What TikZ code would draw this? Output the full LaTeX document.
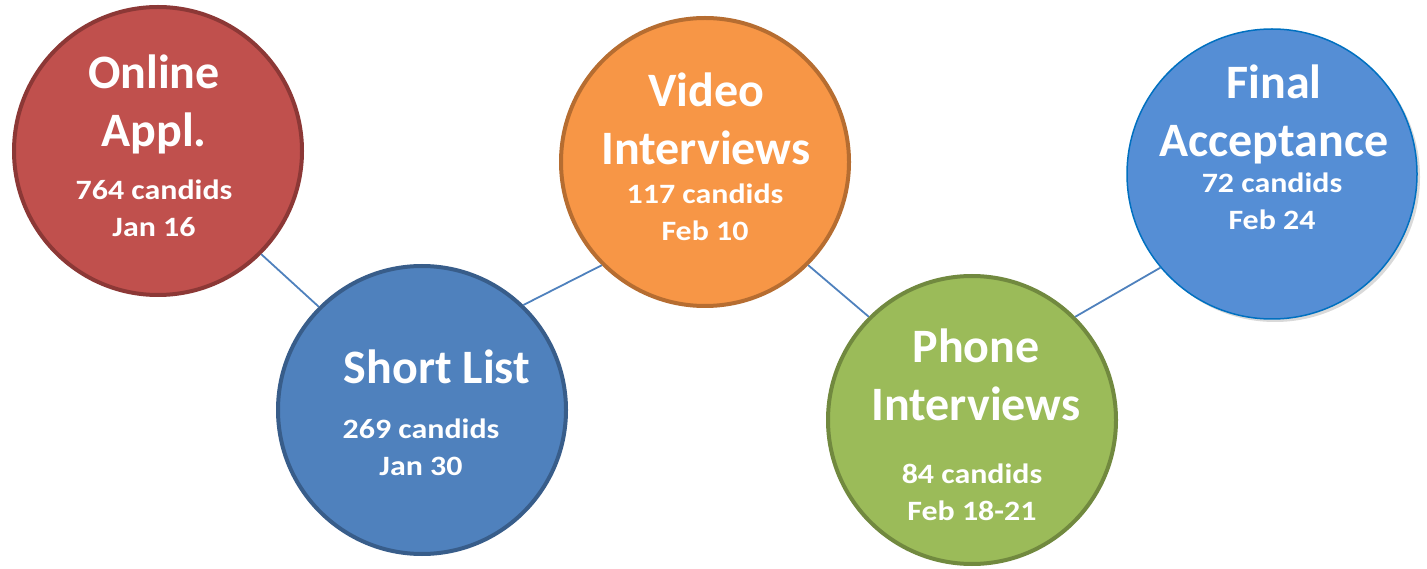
\documentclass[tikz,border=0pt]{standalone}
\usepackage{fontspec}
\newfontfamily\stagefont{Carlito}
\newfontfamily\countfont[FakeStretch=1.14]{Carlito}
\usetikzlibrary{shadows}
\definecolor{applred}{RGB}{192,80,77}
\definecolor{appldark}{RGB}{140,56,54}
\definecolor{listblue}{RGB}{79,129,189}
\definecolor{listdark}{RGB}{56,93,138}
\definecolor{videoorange}{RGB}{247,150,70}
\definecolor{videodark}{RGB}{182,109,49}
\definecolor{phonegreen}{RGB}{155,187,89}
\definecolor{phonedark}{RGB}{113,137,63}
\definecolor{finalblue}{RGB}{85,142,213}
\definecolor{finaldark}{RGB}{0,112,192}

\tikzset{
  stage/.style={draw, circle, line width=4pt, minimum size=288pt, inner sep=0pt},
  stagetitle/.style={text=white, align=center, inner sep=0pt, anchor=base,
    font=\stagefont\bfseries\fontsize{48}{58}\selectfont},
  stagecount/.style={text=white, align=center, inner sep=0pt, anchor=base,
    font=\countfont\bfseries\fontsize{28}{37}\selectfont},
  link/.style={draw=listblue, line width=1.8pt}
}

\begin{document}
\begin{tikzpicture}[x=1pt, y=-1pt]
    \useasboundingbox (0,0) rectangle (1427,569);

    % the five stages
    \node[stage, fill=applred, draw=appldark] (online) at (158,151) {};
    \node[stage, fill=listblue, draw=listdark] (short) at (422,410) {};
    \node[stage, fill=videoorange, draw=videodark] (video) at (705,162) {};
    \node[stage, fill=phonegreen, draw=phonedark] (phone) at (972,420) {};
    \node[stage, fill=finalblue, draw=finaldark, line width=1.5pt, minimum size=290pt,
          drop shadow={shadow xshift=3pt, shadow yshift=-3pt, opacity=0.3}] (final) at (1272,174) {};

    % links between stages
    \draw[link] (online.-45) -- (short.135);
    \draw[link] (short.46) -- (video.225);
    \draw[link] (video.-45) -- (phone.135);
    \draw[link] (phone.45) -- (final.220);

    % labels (anchored on the baseline of the last line)
    \node[stagetitle] (online-t) at (154,147) {Online\\Appl.};
    \node[stagecount] (online-c) at (154,237) {764 candids\\Jan 16};
    \node[stagetitle] (short-t) at (437,383) {Short List};
    \node[stagecount] (short-c) at (421,475) {269 candids\\Jan 30};
    \node[stagetitle] (video-t) at (706,165) {Video\\Interviews};
    \node[stagecount] (video-c) at (705,241) {117 candids\\Feb 10};
    \node[stagetitle] (phone-t) at (976,420) {Phone\\Interviews};
    \node[stagecount] (phone-c) at (972,520) {84 candids\\Feb 18-21};
    \node[stagetitle] (final-t) at (1274,157) {Final\\Acceptance};
    \node[stagecount] (final-c) at (1272,230) {72 candids\\Feb 24};
\end{tikzpicture}
\end{document}
